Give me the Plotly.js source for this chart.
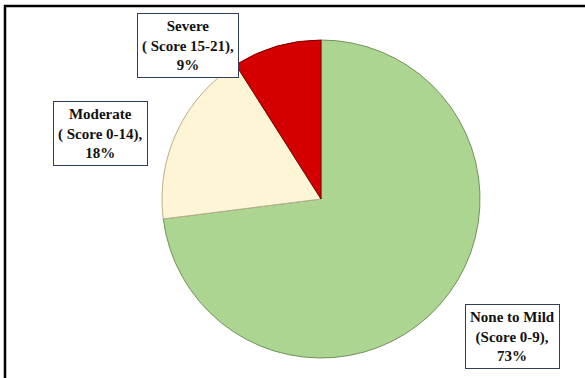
<!DOCTYPE html>
<html>
<head>
<meta charset="utf-8">
<script src="https://cdn.plot.ly/plotly-3.0.1.min.js"></script>
<style>
  html, body { margin: 0; padding: 0; background: #ffffff; }
  #chart { width: 585px; height: 378px; }
</style>
</head>
<body>
<div id="chart"></div>
<script>
// Data
var categories = ["None to Mild", "Moderate", "Severe"];
var scoreRanges = ["(Score 0-9),", "( Score 0-14),", "( Score 15-21),"];
var values = [73, 18, 9];
var sliceColors = ["#acd591", "#fdf5d5", "#d40000"];

var W = 585, H = 378;
function px(x) { return x / W; }
function py(y) { return 1 - y / H; }

var cx = 321, cy = 199, r = 159;

var trace = {
  type: "pie",
  values: values,
  labels: categories,
  sort: false,
  direction: "clockwise",
  rotation: 0,
  textinfo: "none",
  hoverinfo: "none",
  showlegend: false,
  marker: {
    colors: sliceColors,
    line: { color: ["#6f9158", "#b9ae8c", "#7a0000"], width: 1 }
  },
  domain: { x: [px(cx - r), px(cx + r)], y: [py(cy + r), py(cy - r)] }
};

var labelPos = [[512, 336], [100, 134], [188, 45]];
var annotations = categories.map(function (c, i) {
  return {
    xref: "paper", yref: "paper",
    x: px(labelPos[i][0]), y: py(labelPos[i][1]),
    xanchor: "center", yanchor: "middle",
    text: "<b>" + c + "<br>" + scoreRanges[i] + "<br>" + values[i] + "%</b>",
    showarrow: false,
    align: "center",
    font: { family: "Times New Roman, Liberation Serif, DejaVu Serif, serif", size: 15, color: "#111111" },
    bgcolor: "#ffffff",
    bordercolor: "#2e3f5c",
    borderwidth: 1,
    borderpad: 4
  };
});

var layout = {
  width: W, height: H,
  margin: { l: 0, r: 0, t: 0, b: 0 },
  paper_bgcolor: "#ffffff",
  font: { family: "Times New Roman, Liberation Serif, serif" },
  showlegend: false,
  annotations: annotations,
  shapes: [
    { type: "line", xref: "paper", yref: "paper", x0: px(5), x1: px(5), y0: py(5), y1: 0,
      line: { color: "#000000", width: 2.5 } },
    { type: "line", xref: "paper", yref: "paper", x0: px(4), x1: 1, y0: py(6), y1: py(6),
      line: { color: "#000000", width: 2.5 } }
  ]
};

Plotly.newPlot("chart", [trace], layout, { displayModeBar: false, staticPlot: true });
</script>
</body>
</html>
